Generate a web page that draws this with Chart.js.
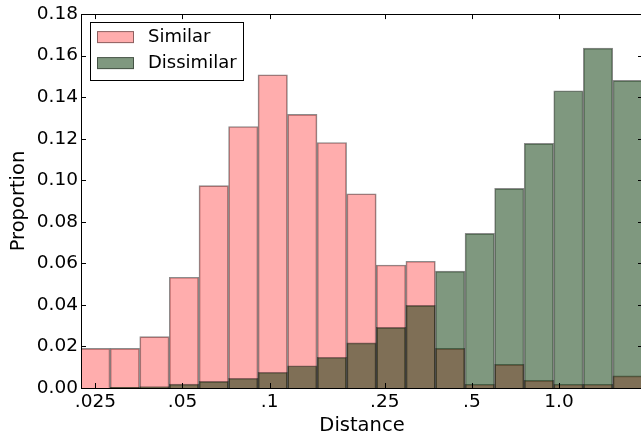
<!DOCTYPE html>
<html lang="en">
<head>
    <meta charset="UTF-8">
    <title>Distance histogram</title>
    <script src="https://cdn.jsdelivr.net/npm/chart.js"></script>
    <style>
        html, body { margin: 0; padding: 0; background: #fff; overflow: hidden; }
        #wrap { width: 645px; height: 438px; }
    </style>
</head>
<body>
    <div id="wrap"><canvas id="histChart" width="645" height="438"></canvas></div>

    <script>
        // bin centres (distance, log-spaced)
        const binCenters = [0.0250, 0.0316, 0.0400, 0.0506, 0.0641, 0.0811, 0.1025, 0.1297, 0.1641, 0.2077,
                            0.2628, 0.3324, 0.4206, 0.5321, 0.6733, 0.8518, 1.0777, 1.3635, 1.7251];
        const similar = [0.0191, 0.0191, 0.0247, 0.0533, 0.0974, 0.1259, 0.1508, 0.1317, 0.1182, 0.0935,
                         0.0592, 0.0610, 0.0191, 0.0018, 0.0114, 0.0037, 0.0018, 0.0018, 0.0058];
        const dissimilar = [0.0000, 0.0003, 0.0007, 0.0019, 0.0032, 0.0047, 0.0076, 0.0107, 0.0148, 0.0217,
                            0.0292, 0.0398, 0.0563, 0.0744, 0.0961, 0.1178, 0.1431, 0.1636, 0.1481];
        const seriesNames = ['Similar', 'Dissimilar'];
        const xTicks = [0.025, 0.05, 0.1, 0.25, 0.5, 1.0];
        const xTickLabels = ['.025', '.05', '.1', '.25', '.5', '1.0'];
        const yTicks = [0, 0.02, 0.04, 0.06, 0.08, 0.10, 0.12, 0.14, 0.16, 0.18];

        Chart.defaults.font.family = '"DejaVu Sans", sans-serif';
        Chart.defaults.font.size = 18.5;
        Chart.defaults.color = '#000';

        // frame, inward ticks on all four sides, and the boxed legend
        const frameAndLegend = {
            id: 'frameAndLegend',
            afterDatasetsDraw(chart) {
                const { ctx, chartArea: a, scales: { x, y } } = chart;
                ctx.save();
                ctx.strokeStyle = '#000';
                ctx.lineWidth = 1;
                ctx.beginPath();
                xTicks.forEach(v => {
                    const px = Math.round(x.getPixelForValue(v)) + 0.5;
                    ctx.moveTo(px, a.bottom); ctx.lineTo(px, a.bottom - 5);
                    ctx.moveTo(px, a.top); ctx.lineTo(px, a.top + 5);
                });
                yTicks.forEach(v => {
                    const py = Math.round(y.getPixelForValue(v)) + 0.5;
                    ctx.moveTo(a.left, py); ctx.lineTo(a.left + 5, py);
                    ctx.moveTo(a.right, py); ctx.lineTo(a.right - 5, py);
                });
                ctx.stroke();
                ctx.strokeRect(Math.round(a.left) + 0.5, Math.round(a.top) + 0.5,
                               Math.round(a.right - a.left), Math.round(a.bottom - a.top));

                // legend
                ctx.font = '18px "DejaVu Sans"';
                const tw = Math.max(...seriesNames.map(s => ctx.measureText(s).width));
                const lx = a.left + 9, ly = a.top + 8;
                ctx.fillStyle = '#fff';
                ctx.fillRect(lx, ly, 58 + tw + 6, 58);
                ctx.strokeRect(Math.round(lx) + 0.5, Math.round(ly) + 0.5, Math.round(58 + tw + 6), 58);
                chart.data.datasets.forEach((ds, i) => {
                    const by = a.top + 17 + i * 26;
                    ctx.fillStyle = ds.backgroundColor;
                    ctx.fillRect(a.left + 16, by, 37, 12);
                    ctx.strokeStyle = ds.borderColor;
                    ctx.strokeRect(a.left + 16.5, by + 0.5, 36, 11);
                    ctx.fillStyle = '#000';
                    ctx.textBaseline = 'middle';
                    ctx.textAlign = 'left';
                    ctx.fillText(seriesNames[i], a.left + 67, by + 6);
                });
                ctx.restore();
            }
        };

        const ctx = document.getElementById('histChart').getContext('2d');
        const histChart = new Chart(ctx, {
            type: 'bar',
            data: {
                labels: binCenters,
                datasets: [{
                    label: seriesNames[0],
                    data: similar,
                    backgroundColor: 'rgba(255, 0, 0, 0.32)',
                    borderColor: 'rgba(0, 0, 0, 0.45)',
                    borderWidth: 1,
                    order: 2
                }, {
                    label: seriesNames[1],
                    data: dissimilar,
                    backgroundColor: 'rgba(0, 50, 0, 0.5)',
                    borderColor: 'rgba(0, 0, 0, 0.45)',
                    borderWidth: 1,
                    order: 1
                }]
            },
            options: {
                responsive: false,
                animation: false,
                devicePixelRatio: 1,
                grouped: false,
                barPercentage: 1,
                categoryPercentage: 1,
                layout: { padding: { top: 14, right: 2, left: 0, bottom: 0 } },
                plugins: {
                    legend: { display: false },
                    tooltip: { enabled: false }
                },
                scales: {
                    x: {
                        type: 'logarithmic',
                        min: 0.0223,
                        max: 1.95,
                        grid: { display: false, drawTicks: false },
                        border: { display: false },
                        afterBuildTicks: s => { s.ticks = xTicks.map(v => ({ value: v })); },
                        afterFit: s => { s.height = 50; },
                        ticks: {
                            autoSkip: false,
                            maxRotation: 0,
                            padding: 3,
                            callback: (v, i) => xTickLabels[i]
                        },
                        title: { display: true, text: 'Distance', font: { size: 19.5 }, padding: { top: 0, bottom: 0 } }
                    },
                    y: {
                        min: 0,
                        max: 0.18,
                        grid: { display: false, drawTicks: false },
                        border: { display: false },
                        afterBuildTicks: s => { s.ticks = yTicks.map(v => ({ value: v })); },
                        afterFit: s => { s.width = 81; },
                        ticks: {
                            padding: 3,
                            callback: v => v.toFixed(2)
                        },
                        title: { display: true, text: 'Proportion', font: { size: 19.5 }, padding: { top: 7, bottom: 0 } }
                    }
                }
            },
            plugins: [frameAndLegend]
        });
    </script>
</body>
</html>
